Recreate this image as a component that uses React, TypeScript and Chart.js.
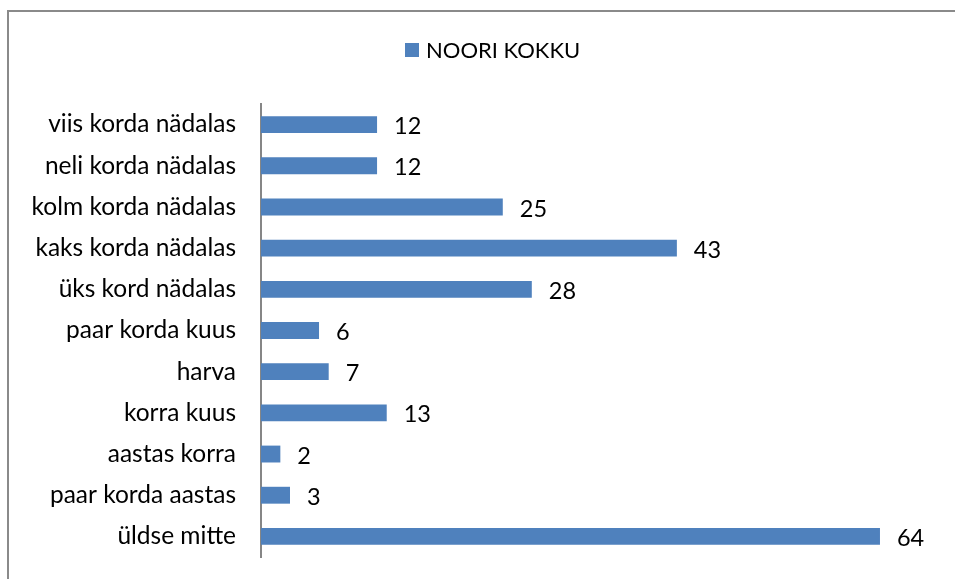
import React, { useEffect, useRef } from "react";
import { Chart, registerables } from "chart.js";

Chart.register(...registerables);

const categories = [
  "viis korda nädalas",
  "neli korda nädalas",
  "kolm korda nädalas",
  "kaks korda nädalas",
  "üks kord nädalas",
  "paar korda kuus",
  "harva",
  "korra kuus",
  "aastas korra",
  "paar korda aastas",
  "üldse mitte",
];
const values = [12, 12, 25, 43, 28, 6, 7, 13, 2, 3, 64];
const seriesName = "NOORI KOKKU";

const FONT = "Lato, 'DejaVu Sans', sans-serif";
const BAR_COLOR = "#4F81BD";

const valueLabels = {
  id: "valueLabels",
  afterDatasetsDraw(chart: any) {
    const ctx = chart.ctx;
    const meta = chart.getDatasetMeta(0);
    ctx.save();
    ctx.font = `23.5px ${FONT}`;
    ctx.fillStyle = "#000";
    ctx.textAlign = "left";
    ctx.textBaseline = "middle";
    meta.data.forEach((bar: any, i: number) => {
      ctx.fillText(String(values[i]), bar.x + 17, bar.y + 2);
    });
    ctx.restore();
  },
};

const customLegend = {
  id: "customLegend",
  afterDraw(chart: any) {
    const ctx = chart.ctx;
    ctx.save();
    ctx.fillStyle = BAR_COLOR;
    ctx.fillRect(405, 43, 14, 14);
    ctx.font = `22px ${FONT}`;
    ctx.fillStyle = "#000";
    ctx.textAlign = "left";
    ctx.textBaseline = "middle";
    ctx.fillText(seriesName, 426, 51);
    ctx.restore();
  },
};

export default function App() {
  const ref = useRef<HTMLCanvasElement | null>(null);
  useEffect(() => {
    if (!ref.current) return;
    const chart = new Chart(ref.current, {
      type: "bar",
      data: {
        labels: categories,
        datasets: [
          {
            label: seriesName,
            data: values,
            backgroundColor: BAR_COLOR,
            borderWidth: 0,
            categoryPercentage: 1,
            barPercentage: 0.41,
          },
        ],
      },
      options: {
        indexAxis: "y",
        responsive: false,
        animation: false,
        layout: { padding: { left: 0, right: 17, top: 104, bottom: 22 } },
        plugins: {
          legend: { display: false },
          tooltip: { enabled: false },
        },
        scales: {
          x: {
            display: false,
            min: 0,
            max: 70,
          },
          y: {
            afterFit(scale: any) {
              scale.width = 261;
              scale.paddingTop = 0;
              scale.paddingBottom = 0;
            },
            grid: { display: false, drawTicks: false },
            border: { display: true, color: "#868686", width: 2 },
            ticks: {
              color: "#000",
              padding: 25,
              font: { family: FONT, size: 24.5 },
            },
          },
        },
      },
      plugins: [valueLabels, customLegend],
    });
    return () => chart.destroy();
  }, []);

  return (
    <div
      style={{
        position: "fixed",
        left: 0,
        top: 0,
        width: 955,
        height: 579,
        background: "#fff",
        overflow: "hidden",
      }}
    >
      <div
        style={{
          position: "absolute",
          left: 7,
          top: 10,
          width: 1000,
          height: 1000,
          border: "2px solid #8a8a8a",
          boxSizing: "border-box",
        }}
      />
      <canvas
        ref={ref}
        width={955}
        height={579}
        style={{ position: "absolute", left: 0, top: 0, width: 955, height: 579 }}
      />
    </div>
  );
}
